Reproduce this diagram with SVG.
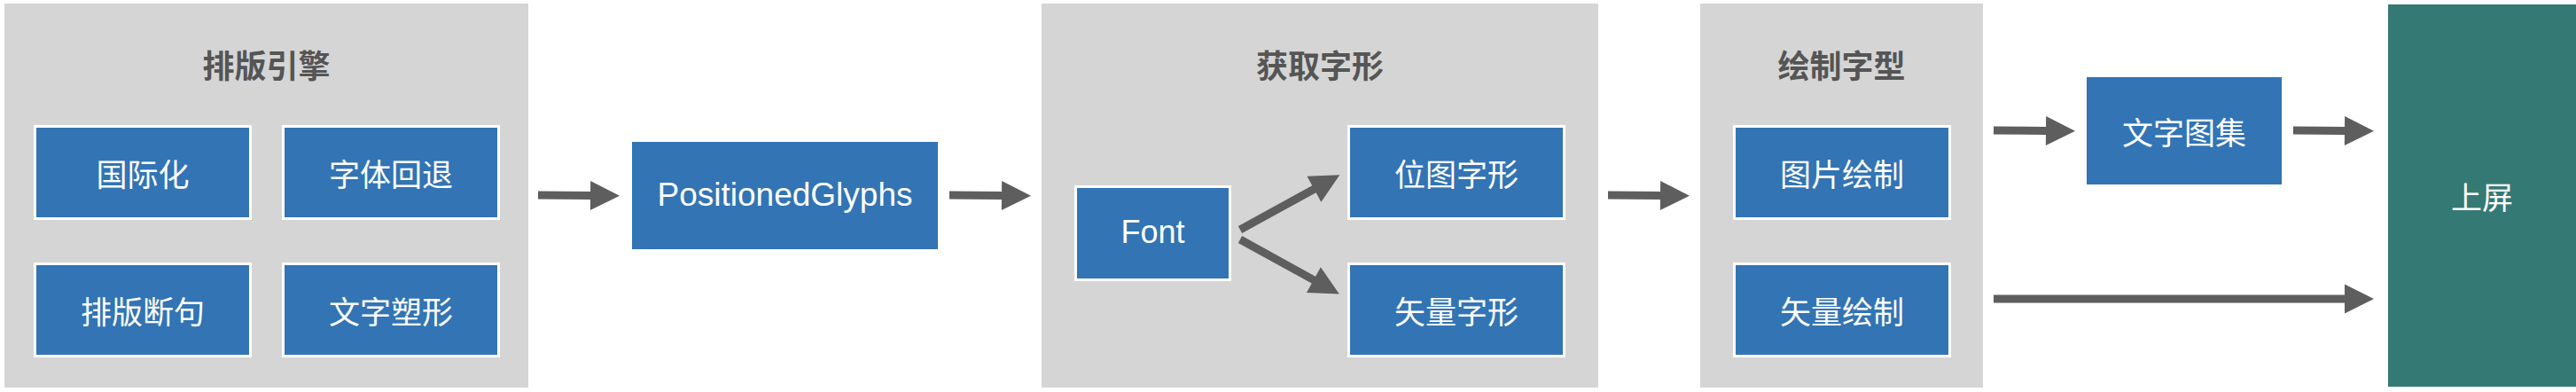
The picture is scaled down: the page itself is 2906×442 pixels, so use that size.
<svg xmlns="http://www.w3.org/2000/svg" width="2906" height="442" viewBox="0 0 2906 442">
<style>
.panel{fill:#d5d5d5}
.title{font-family:"Noto Sans CJK SC","Liberation Sans",sans-serif;font-size:36px;font-weight:bold;fill:#555555;text-anchor:middle;dominant-baseline:central}
.node{fill:#3274b4;stroke:#ffffff;stroke-width:3}
.plain{fill:#3274b4}
.screen{fill:#357975}
.cjk{font-family:"Noto Sans CJK SC","Liberation Sans",sans-serif;font-size:35px;fill:#ffffff;text-anchor:middle;dominant-baseline:central}
.lat{font-family:"Liberation Sans",Arial,sans-serif;fill:#ffffff;text-anchor:middle}
.conn{stroke:#5e5e5e;stroke-width:9;fill:none;marker-end:url(#ah)}
</style>
<defs>
<marker id="ah" markerUnits="userSpaceOnUse" markerWidth="34" markerHeight="34" refX="1" refY="16.5" orient="auto" overflow="visible">
<path d="M0,0 L33,16.5 L0,33 z" fill="#5e5e5e"/>
</marker>
</defs>
<rect width="2906" height="442" fill="#ffffff"/>

<g id="panel-layout">
<rect class="panel" x="5" y="4" width="591" height="433"/>
<text class="title" x="300.5" y="72">排版引擎</text>
</g>
<g id="panel-glyph">
<rect class="panel" x="1175" y="4" width="628" height="433"/>
<text class="title" x="1489" y="72">获取字形</text>
</g>
<g id="panel-draw">
<rect class="panel" x="1918" y="4" width="319" height="433"/>
<text class="title" x="2077.5" y="72">绘制字型</text>
</g>

<g id="node-i18n">
<rect class="node" x="39.5" y="142.5" width="243" height="104"/>
<text class="cjk" x="161" y="194">国际化</text>
</g>
<g id="node-fallback">
<rect class="node" x="319.5" y="142.5" width="243" height="104"/>
<text class="cjk" x="441" y="194">字体回退</text>
</g>
<g id="node-linebreak">
<rect class="node" x="39.5" y="297.5" width="243" height="104"/>
<text class="cjk" x="161" y="349">排版断句</text>
</g>
<g id="node-shaping">
<rect class="node" x="319.5" y="297.5" width="243" height="104"/>
<text class="cjk" x="441" y="349">文字塑形</text>
</g>

<g id="node-positioned">
<rect class="plain" x="713" y="160" width="345" height="121"/>
<text class="lat" x="885.5" y="232" font-size="37">PositionedGlyphs</text>
</g>

<g id="node-font">
<rect class="node" x="1213.5" y="210.5" width="174" height="105"/>
<text class="lat" x="1300.5" y="274" font-size="36">Font</text>
</g>
<g id="node-bitmap">
<rect class="node" x="1521.5" y="142.5" width="243" height="104"/>
<text class="cjk" x="1643" y="194">位图字形</text>
</g>
<g id="node-vector">
<rect class="node" x="1521.5" y="297.5" width="243" height="104"/>
<text class="cjk" x="1643" y="349">矢量字形</text>
</g>

<g id="node-imgdraw">
<rect class="node" x="1956.5" y="142.5" width="243" height="104"/>
<text class="cjk" x="2078" y="194">图片绘制</text>
</g>
<g id="node-vecdraw">
<rect class="node" x="1956.5" y="297.5" width="243" height="104"/>
<text class="cjk" x="2078" y="349">矢量绘制</text>
</g>

<g id="node-atlas">
<rect class="plain" x="2354" y="87" width="220" height="121"/>
<text class="cjk" x="2464" y="147.5">文字图集</text>
</g>

<g id="node-screen">
<rect class="screen" x="2694" y="5" width="212" height="431"/>
<text class="cjk" x="2800" y="220.5">上屏</text>
</g>

<g id="connectors">
<line class="conn" x1="607" y1="220" x2="667" y2="220.5"/>
<line class="conn" x1="1071" y1="220" x2="1131" y2="220.5"/>
<line class="conn" x1="1399" y1="259" x2="1483.3" y2="212.7"/>
<line class="conn" x1="1399" y1="270" x2="1482.8" y2="316.1"/>
<line class="conn" x1="1814" y1="220" x2="1874" y2="220.5"/>
<line class="conn" x1="2249" y1="147" x2="2309" y2="147.5"/>
<line class="conn" x1="2587" y1="147" x2="2646" y2="147.5"/>
<line class="conn" x1="2249" y1="337" x2="2646" y2="337"/>
</g>
</svg>
